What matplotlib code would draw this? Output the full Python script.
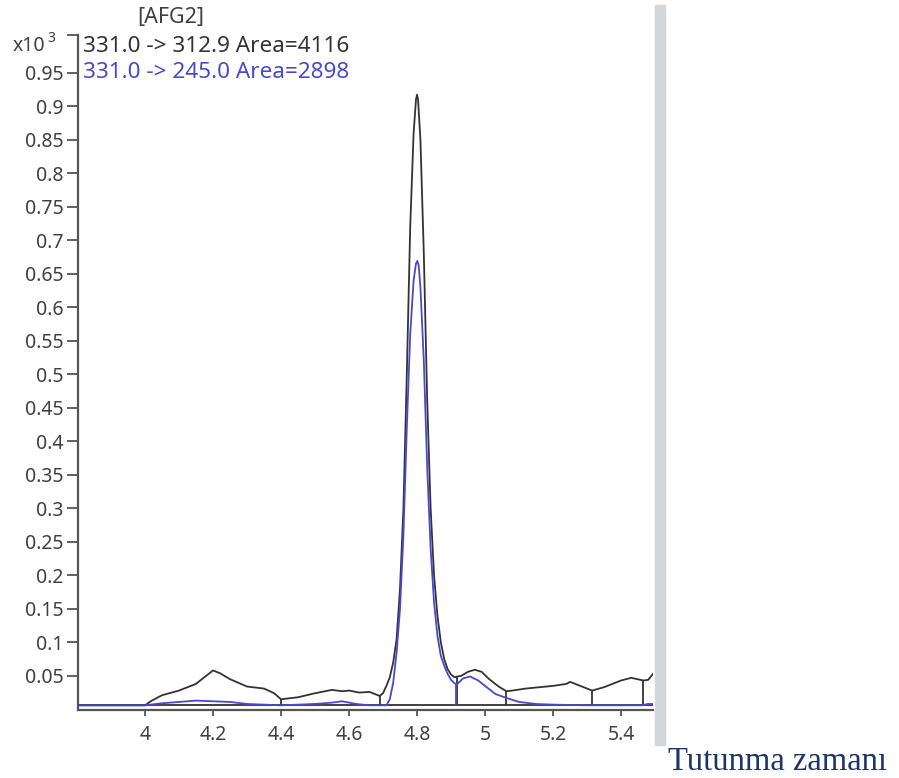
import matplotlib
matplotlib.use("Agg")
import matplotlib.pyplot as plt

# ---------------- data ----------------
black_t = [3.80, 4.00, 4.02, 4.05, 4.10, 4.15, 4.18, 4.20, 4.22, 4.25, 4.30, 4.35, 4.38, 4.40,
           4.45, 4.50, 4.55, 4.58, 4.60, 4.63, 4.66, 4.69, 4.70, 4.71, 4.72, 4.73, 4.74,
           4.75, 4.76, 4.77, 4.78, 4.79, 4.797, 4.80, 4.803, 4.81, 4.82, 4.83, 4.84, 4.85,
           4.86, 4.87, 4.88, 4.89, 4.90, 4.91, 4.93, 4.95, 4.97, 4.99, 5.01, 5.04, 5.063,
           5.08, 5.12, 5.16, 5.20, 5.24, 5.25, 5.28, 5.315, 5.35, 5.40, 5.43, 5.466, 5.48, 5.494]
black_v = [0.006, 0.006, 0.013, 0.021, 0.028, 0.038, 0.050, 0.058, 0.054, 0.045, 0.034, 0.031, 0.024, 0.015,
           0.018, 0.024, 0.029, 0.027, 0.028, 0.025, 0.026, 0.020, 0.024, 0.035, 0.048, 0.070, 0.105,
           0.180, 0.300, 0.500, 0.720, 0.860, 0.910, 0.917, 0.910, 0.850, 0.680, 0.460, 0.300, 0.200,
           0.140, 0.100, 0.075, 0.060, 0.052, 0.048, 0.050, 0.056, 0.059, 0.056, 0.046, 0.034, 0.027,
           0.028, 0.031, 0.033, 0.035, 0.038, 0.041, 0.035, 0.028, 0.033, 0.043, 0.047, 0.043, 0.044, 0.053]

blue_t = [3.80, 4.00, 4.05, 4.10, 4.15, 4.20, 4.25, 4.30, 4.35, 4.40, 4.50, 4.55, 4.58,
          4.62, 4.66, 4.71, 4.72, 4.73, 4.74, 4.75, 4.76, 4.77, 4.78, 4.79, 4.797, 4.801,
          4.805, 4.81, 4.82, 4.83, 4.84, 4.85, 4.86, 4.87, 4.88, 4.89, 4.90, 4.91, 4.917,
          4.935, 4.956, 4.98, 5.00, 5.03, 5.063, 5.10, 5.15, 5.20, 5.30, 5.46, 5.48, 5.494]
blue_v = [0.006, 0.006, 0.009, 0.011, 0.013, 0.012, 0.011, 0.008, 0.007, 0.006, 0.008, 0.010, 0.012,
          0.008, 0.006, 0.006, 0.015, 0.040, 0.085, 0.150, 0.260, 0.420, 0.560, 0.640, 0.665, 0.669,
          0.662, 0.630, 0.520, 0.360, 0.240, 0.160, 0.110, 0.080, 0.065, 0.053, 0.044, 0.039, 0.037,
          0.046, 0.049, 0.043, 0.035, 0.023, 0.017, 0.011, 0.008, 0.007, 0.006, 0.006, 0.008, 0.008]

baseline_v = 0.006
black_marks_t = [4.40, 4.69, 4.918, 5.063, 5.315, 5.466]
black_marks_v = [0.015, 0.020, 0.049, 0.027, 0.028, 0.043]
blue_marks_t = [4.915, 5.48]
blue_marks_v = [0.038, 0.009]

x_ticks = [4.0, 4.2, 4.4, 4.6, 4.8, 5.0, 5.2, 5.4]
x_tick_labels = ["4", "4.2", "4.4", "4.6", "4.8", "5", "5.2", "5.4"]
y_ticks = [0.05, 0.1, 0.15, 0.2, 0.25, 0.3, 0.35, 0.4, 0.45, 0.5,
           0.55, 0.6, 0.65, 0.7, 0.75, 0.8, 0.85, 0.9, 0.95]
y_tick_labels = ["0.05", "0.1", "0.15", "0.2", "0.25", "0.3", "0.35", "0.4", "0.45", "0.5",
                 "0.55", "0.6", "0.65", "0.7", "0.75", "0.8", "0.85", "0.9", "0.95"]

title = "[AFG2]"
label_black = "331.0 -> 312.9 Area=4116"
label_blue = "331.0 -> 245.0 Area=2898"
xlabel = "Tutunma zamanı"

# ---------------- figure ----------------
W, H = 899, 778
fig = plt.figure(figsize=(W / 100, H / 100), dpi=100)
fig.patch.set_facecolor("white")

def fx(px):
    return px / W

def fy(py):
    return 1 - py / H

ax = fig.add_axes([fx(78), fy(710), fx(653) - fx(78), fy(35) - fy(710)])

black_c = "#333333"
blue_c = "#4848d0"
axis_c = "#555555"
text_c = "#404040"
font = ["Noto Sans", "DejaVu Sans"]

ax.plot(black_t, black_v, color=black_c, lw=1.3, solid_joinstyle="round", zorder=3)
ax.hlines(baseline_v, 3.80, 5.494, color=black_c, lw=1.3, zorder=2)
ax.plot(blue_t, blue_v, color=blue_c, lw=1.3, solid_joinstyle="round", zorder=4)
ax.vlines(black_marks_t, [baseline_v] * len(black_marks_t), black_marks_v,
          color=black_c, lw=1.3, zorder=3)
ax.vlines(blue_marks_t, [baseline_v] * len(blue_marks_t), blue_marks_v,
          color=blue_c, lw=1.3, zorder=4)

ax.set_xlim(3.803, 5.494)
ax.set_ylim(-0.001, 1.006)

for s in ["top", "right"]:
    ax.spines[s].set_visible(False)
ax.spines["left"].set_color(axis_c)
ax.spines["left"].set_linewidth(1.6)
ax.spines["bottom"].set_color(axis_c)
ax.spines["bottom"].set_linewidth(1.6)

ax.set_xticks(x_ticks)
ax.set_xticklabels(x_tick_labels, fontsize=14, color=text_c, family=font)
ax.set_yticks(y_ticks + [1.006])
ax.set_yticklabels(y_tick_labels + [""], fontsize=14, color=text_c, family=font)
ax.tick_params(axis="x", direction="out", length=4.5, width=1.3, color=axis_c, pad=6)
ax.tick_params(axis="y", direction="out", length=8, width=1.3, color=axis_c, pad=2.5)

# exponent label
fig.text(fx(13), fy(46), "x10", fontsize=14, color=text_c, family=font, va="center", ha="left")
fig.text(fx(47), fy(39), "3", fontsize=10, color=text_c, family=font, va="center", ha="left")

# title and trace labels
fig.text(fx(171), fy(17), title, fontsize=15.5, color=text_c, family=font, ha="center", va="center")
fig.text(fx(83), fy(46), label_black, fontsize=16.2, color=black_c, family=font, ha="left", va="center")
fig.text(fx(83), fy(73), label_blue, fontsize=16.2, color=blue_c, family=font, ha="left", va="center")

# grey scroll bar on the right
fig.patches.append(plt.Rectangle((fx(655), fy(745)), fx(10), fy(5) - fy(745),
                                 transform=fig.transFigure, color="#d3d6da", zorder=0))

# axis title
fig.text(fx(668), fy(770), xlabel, fontsize=23.5, color="#1e3466",
         family=["Liberation Serif", "DejaVu Serif"], ha="left", va="baseline")

fig.savefig("out.png", dpi=100, facecolor="white")
